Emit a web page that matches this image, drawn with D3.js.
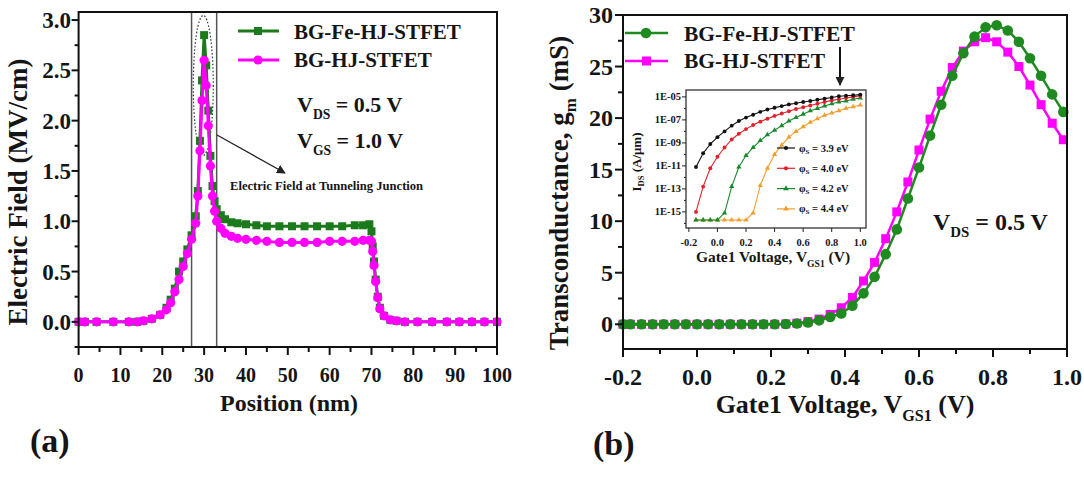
<!DOCTYPE html>
<html><head><meta charset="utf-8">
<script src="https://cdn.jsdelivr.net/npm/d3@7"></script>
<style>
body{margin:0;background:#fff}
svg{display:block}
text{font-family:"Liberation Serif","Times New Roman",serif;font-weight:bold;fill:#151515}
</style>
</head><body>
<svg id="c" width="1084" height="481"></svg>
<script>
// ---------- Panel (a): electric field vs position ----------
const positionNm = [0,1.5,4.3,8.3,12,14,15.5,17.5,19.5,21,22,23,24,25,26,27,28,28.5,29,29.5,30,30.5,31,31.5,32,32.5,33,34,35,36.5,38,40,42.5,45,48,51,54,57,60,63,66,68,69.5,70,70.3,70.6,71,71.5,72,73,74.5,76,78,81,84.5,88,91,94,97,100];
const fieldFe    = [0,0,0,0,0,0,0.01,0.03,0.07,0.14,0.22,0.33,0.5,0.6,0.72,0.86,1.05,1.3,1.8,2.4,2.85,2.55,2.1,1.65,1.35,1.2,1.12,1.06,1.02,0.99,0.98,0.97,0.96,0.95,0.95,0.95,0.95,0.95,0.95,0.95,0.96,0.96,0.97,0.9,0.75,0.6,0.42,0.25,0.14,0.06,0.02,0.01,0,0,0,0,0,0,0,0];
const fieldHJ    = [0,0,0,0,0,0,0.01,0.03,0.07,0.12,0.19,0.3,0.42,0.55,0.68,0.82,0.98,1.25,1.7,2.2,2.6,2.35,1.95,1.55,1.25,1.1,1.0,0.93,0.88,0.85,0.83,0.82,0.81,0.8,0.79,0.79,0.79,0.79,0.8,0.8,0.8,0.81,0.81,0.8,0.7,0.56,0.4,0.24,0.13,0.06,0.02,0.01,0,0,0,0,0,0,0,0];
const seriesNames = ["BG-Fe-HJ-STFET","BG-HJ-STFET"];
const junctionBounds = [27,33];
const xTicksA = [0,10,20,30,40,50,60,70,80,90,100];
const yTicksA = [0,0.5,1,1.5,2,2.5,3];

// ---------- Panel (b): transconductance vs gate voltage ----------
const vgs  = [-0.2,-0.18,-0.15,-0.12,-0.09,-0.06,-0.03,0,0.03,0.06,0.09,0.12,0.15,0.18,0.21,0.24,0.27,0.30,0.33,0.36,0.39,0.42,0.45,0.48,0.51,0.54,0.57,0.60,0.63,0.66,0.69,0.72,0.75,0.78,0.81,0.84,0.87,0.90,0.93,0.96,0.99];
const gmFe = [0,0,0,0,0,0,0,0,0,0,0,0,0,0,0,0.02,0.08,0.18,0.38,0.7,1.05,1.8,3.0,4.6,6.8,9.2,12.2,15.2,18.3,21.3,24.1,26.3,27.9,28.8,29.0,28.5,27.4,25.8,24.1,22.3,20.6];
const gmHJ = [0,0,0,0,0,0,0,0,0,0,0,0,0,0,0,0.03,0.1,0.25,0.5,0.95,1.6,2.6,4.2,6.0,8.3,10.9,13.8,16.9,19.9,22.6,24.9,26.5,27.4,27.8,27.4,26.4,25.0,23.2,21.3,19.5,17.9];
const xTicksB = [-0.2,0,0.2,0.4,0.6,0.8,1.0];
const yTicksB = [0,5,10,15,20,25,30];

// ---------- Inset: transfer characteristics (log10 of I_DS in A/um) ----------
const insetVgs = [-0.15,-0.1,-0.05,0,0.05,0.1,0.15,0.2,0.25,0.3,0.35,0.4,0.45,0.5,0.55,0.6,0.65,0.7,0.75,0.8,0.85,0.9,0.95,1.0];
const logIds39 = [-11.1,-9.9,-9.1,-8.5,-8.0,-7.5,-7.1,-6.8,-6.55,-6.3,-6.1,-5.95,-5.8,-5.65,-5.55,-5.45,-5.35,-5.25,-5.15,-5.05,-4.95,-4.9,-4.85,-4.8];
const logIds40 = [-15.0,-12.8,-11.2,-10.2,-9.4,-8.7,-8.2,-7.8,-7.45,-7.15,-6.9,-6.65,-6.45,-6.25,-6.05,-5.9,-5.75,-5.6,-5.45,-5.3,-5.2,-5.1,-5.0,-4.9];
const logIds42 = [-15.7,-15.7,-15.7,-15.7,-15.1,-12.8,-11.1,-10.1,-9.4,-8.8,-8.3,-7.9,-7.5,-7.1,-6.8,-6.5,-6.2,-6.0,-5.8,-5.6,-5.45,-5.35,-5.2,-5.1];
const logIds44 = [-15.7,-15.7,-15.7,-15.7,-15.7,-15.7,-15.7,-15.7,-15.1,-12.7,-11.2,-10.0,-9.2,-8.5,-8.0,-7.6,-7.2,-6.9,-6.6,-6.4,-6.2,-6.0,-5.85,-5.7];
const insetLabels = ["3.9","4.0","4.2","4.4"];
const insetYTicks = [1e-5,1e-7,1e-9,1e-11,1e-13,1e-15];
const insetYTickLabels = ["1E-05","1E-07","1E-09","1E-11","1E-13","1E-15"];
const insetXTicks = [-0.2,0,0.2,0.4,0.6,0.8,1.0];

const svg = d3.select("#c");
const GREEN_A = "#1b7a1b", GREEN_B = "#1f8a1f", MAG = "#ff00ff";

svg.append("defs").append("marker").attr("id","arr").attr("viewBox","0 0 10 10")
  .attr("refX",9).attr("refY",5).attr("markerWidth",9).attr("markerHeight",9)
  .attr("orient","auto").attr("markerUnits","userSpaceOnUse")
  .append("path").attr("d","M0,0L10,5L0,10z").attr("fill","#222");

function subText(g,x,y,fs,main,sub,rest){
  const t = g.append("text").attr("x",x).attr("y",y).attr("font-size",fs);
  t.append("tspan").text(main);
  t.append("tspan").attr("font-size",fs*0.62).attr("dy",fs*0.3).text(sub);
  t.append("tspan").attr("dy",-fs*0.3).text(rest);
  return t;
}

// ================= Panel (a) =================
const xA = d3.scaleLinear().domain([0,100]).range([78.6,497]);
const yA = d3.scaleLinear().domain([-0.25,3.08]).range([347,12]);
const gA = svg.append("g");

gA.selectAll(null).data(junctionBounds).enter().append("line")
  .attr("x1",d=>xA(d)).attr("x2",d=>xA(d)).attr("y1",yA.range()[1]).attr("y2",yA.range()[0])
  .attr("stroke","#555").attr("stroke-width",1.5);
gA.append("ellipse").attr("cx",xA(29.8)).attr("cy",yA(2.35)).attr("rx",10).attr("ry",70)
  .attr("fill","none").attr("stroke","#334").attr("stroke-width",1.2).attr("stroke-dasharray","1.5,2");

const lineA = (vals)=> d3.line().x((d,i)=>xA(positionNm[i])).y(d=>yA(d))(vals);
gA.append("path").attr("d",lineA(fieldFe)).attr("fill","none").attr("stroke",GREEN_A).attr("stroke-width",3);
gA.selectAll(null).data(fieldFe).enter().append("rect")
  .attr("x",(d,i)=>xA(positionNm[i])-4).attr("y",d=>yA(d)-4).attr("width",8).attr("height",8).attr("fill",GREEN_A);
gA.append("path").attr("d",lineA(fieldHJ)).attr("fill","none").attr("stroke",MAG).attr("stroke-width",3);
gA.selectAll(null).data(fieldHJ).enter().append("circle")
  .attr("cx",(d,i)=>xA(positionNm[i])).attr("cy",d=>yA(d)).attr("r",4.6).attr("fill",MAG);

gA.append("rect").attr("x",xA(0)).attr("y",yA.range()[1]).attr("width",xA(100)-xA(0)).attr("height",yA.range()[0]-yA.range()[1])
  .attr("fill","none").attr("stroke","#111").attr("stroke-width",2);
gA.selectAll(null).data(xTicksA).enter().append("line").attr("x1",d=>xA(d)).attr("x2",d=>xA(d)).attr("y1",347).attr("y2",355).attr("stroke","#111").attr("stroke-width",2);
gA.selectAll(null).data([5,15,25,35,45,55,65,75,85,95]).enter().append("line").attr("x1",d=>xA(d)).attr("x2",d=>xA(d)).attr("y1",347).attr("y2",352).attr("stroke","#111").attr("stroke-width",2);
gA.selectAll(null).data(yTicksA).enter().append("line").attr("x1",xA(0)).attr("x2",xA(0)-7).attr("y1",d=>yA(d)).attr("y2",d=>yA(d)).attr("stroke","#111").attr("stroke-width",2);
gA.selectAll(null).data([-0.25,0.25,0.75,1.25,1.75,2.25,2.75]).enter().append("line").attr("x1",xA(0)).attr("x2",xA(0)-4).attr("y1",d=>yA(d)).attr("y2",d=>yA(d)).attr("stroke","#111").attr("stroke-width",2);
gA.selectAll(null).data(xTicksA).enter().append("text").attr("x",d=>xA(d)).attr("y",382)
  .attr("text-anchor","middle").attr("font-size",20).text(d=>d);
gA.selectAll(null).data(yTicksA).enter().append("text").attr("x",71).attr("y",d=>yA(d)+8)
  .attr("text-anchor","end").attr("font-size",23).text(d=>d3.format(".1f")(d));
gA.append("text").attr("x",289).attr("y",411).attr("text-anchor","middle").attr("font-size",24).text("Position (nm)");
gA.append("text").attr("transform","translate(27,192) rotate(-90)").attr("text-anchor","middle").attr("font-size",27).text("Electric Field (MV/cm)");

const legA = gA.append("g");
legA.append("line").attr("x1",238).attr("x2",279).attr("y1",31).attr("y2",31).attr("stroke",GREEN_A).attr("stroke-width",3);
legA.append("rect").attr("x",254).attr("y",27).attr("width",8).attr("height",8).attr("fill",GREEN_A);
legA.append("text").attr("x",294).attr("y",39).attr("font-size",21).text(seriesNames[0]);
legA.append("line").attr("x1",238).attr("x2",279).attr("y1",60).attr("y2",60).attr("stroke",MAG).attr("stroke-width",3);
legA.append("circle").attr("cx",258).attr("cy",60).attr("r",4.6).attr("fill",MAG);
legA.append("text").attr("x",294).attr("y",67).attr("font-size",21).text(seriesNames[1]);

subText(gA,297,112,22,"V","DS"," = 0.5 V");
subText(gA,297,148,22,"V","GS"," = 1.0 V");

gA.append("line").attr("x1",217).attr("y1",135).attr("x2",285).attr("y2",173)
  .attr("stroke","#222").attr("stroke-width",1.3).attr("marker-end","url(#arr)");
gA.append("text").attr("x",230).attr("y",190).attr("font-size",12.6).text("Electric Field at Tunneling Junction");

svg.append("text").attr("x",30).attr("y",452).attr("font-size",34).text("(a)");

// ================= Panel (b) =================
const xB = d3.scaleLinear().domain([-0.2,1.0]).range([623,1067]);
const yB = d3.scaleLinear().domain([-2.4,30]).range([349,15]);
const gB = svg.append("g");

const lineB = (vals)=> d3.line().x((d,i)=>xB(vgs[i])).y(d=>yB(d))(vals);
gB.append("path").attr("d",lineB(gmHJ)).attr("fill","none").attr("stroke",MAG).attr("stroke-width",2.5);
gB.selectAll(null).data(gmHJ).enter().append("rect")
  .attr("x",(d,i)=>xB(vgs[i])-4.5).attr("y",d=>yB(d)-4.5).attr("width",9).attr("height",9).attr("fill",MAG);
gB.append("path").attr("d",lineB(gmFe)).attr("fill","none").attr("stroke",GREEN_B).attr("stroke-width",2.5);
gB.selectAll(null).data(gmFe).enter().append("circle")
  .attr("cx",(d,i)=>xB(vgs[i])).attr("cy",d=>yB(d)).attr("r",5.3).attr("fill",GREEN_B);

gB.append("rect").attr("x",xB(-0.2)).attr("y",yB.range()[1]).attr("width",xB(1)-xB(-0.2)).attr("height",yB.range()[0]-yB.range()[1])
  .attr("fill","none").attr("stroke","#111").attr("stroke-width",2);
gB.selectAll(null).data(xTicksB).enter().append("line").attr("x1",d=>xB(d)).attr("x2",d=>xB(d)).attr("y1",349).attr("y2",357).attr("stroke","#111").attr("stroke-width",2);
gB.selectAll(null).data([-0.1,0.1,0.3,0.5,0.7,0.9]).enter().append("line").attr("x1",d=>xB(d)).attr("x2",d=>xB(d)).attr("y1",349).attr("y2",354).attr("stroke","#111").attr("stroke-width",2);
gB.selectAll(null).data(yTicksB).enter().append("line").attr("x1",623).attr("x2",615).attr("y1",d=>yB(d)).attr("y2",d=>yB(d)).attr("stroke","#111").attr("stroke-width",2);
gB.selectAll(null).data([2.5,7.5,12.5,17.5,22.5,27.5]).enter().append("line").attr("x1",623).attr("x2",618).attr("y1",d=>yB(d)).attr("y2",d=>yB(d)).attr("stroke","#111").attr("stroke-width",2);
gB.selectAll(null).data(xTicksB).enter().append("text").attr("x",d=>xB(d)).attr("y",385)
  .attr("text-anchor","middle").attr("font-size",24).text(d=>d3.format(".1f")(d).replace("−","-"));
gB.selectAll(null).data(yTicksB).enter().append("text").attr("x",613).attr("y",d=>yB(d)+8)
  .attr("text-anchor","end").attr("font-size",24).text(d=>d);

subText(gB,845,413,26,"Gate1 Voltage, V","GS1"," (V)").attr("text-anchor","middle");
const yt = gB.append("text").attr("transform","translate(568,193) rotate(-90)").attr("text-anchor","middle").attr("font-size",27);
yt.append("tspan").text("Transconductance, g");
yt.append("tspan").attr("font-size",17).attr("dy",8).text("m");
yt.append("tspan").attr("dy",-8).text(" (mS)");

gB.append("line").attr("x1",625).attr("x2",668).attr("y1",33).attr("y2",33).attr("stroke",GREEN_B).attr("stroke-width",2.5);
gB.append("circle").attr("cx",646).attr("cy",33).attr("r",5.3).attr("fill",GREEN_B);
gB.append("text").attr("x",684).attr("y",41).attr("font-size",21.5).text(seriesNames[0]);
gB.append("line").attr("x1",625).attr("x2",668).attr("y1",61).attr("y2",61).attr("stroke",MAG).attr("stroke-width",2.5);
gB.append("rect").attr("x",642).attr("y",56.5).attr("width",9).attr("height",9).attr("fill",MAG);
gB.append("text").attr("x",684).attr("y",68).attr("font-size",21.5).text(seriesNames[1]);
gB.append("line").attr("x1",840).attr("x2",840).attr("y1",47).attr("y2",85)
  .attr("stroke","#111").attr("stroke-width",2).attr("marker-end","url(#arr)");

subText(gB,933,230,24,"V","DS"," = 0.5 V");
svg.append("text").attr("x",593).attr("y",455).attr("font-size",34).text("(b)");

// ================= Inset =================
const xI = d3.scaleLinear().domain([-0.22,1.04]).range([686,866]);
const yI = d3.scaleLog().domain([Math.pow(10,-16.4),Math.pow(10,-4.4)]).range([228,90]);
const gI = svg.append("g");
gI.append("rect").attr("x",686).attr("y",90).attr("width",180).attr("height",138).attr("fill","#fff");
const insetSeries = [
  {vals:logIds39,color:"#111111",shape:d3.symbolCircle},
  {vals:logIds40,color:"#e0202a",shape:d3.symbolCircle},
  {vals:logIds42,color:"#178a2a",shape:d3.symbolTriangle},
  {vals:logIds44,color:"#f0a030",shape:d3.symbolTriangle}
];
insetSeries.slice().reverse().forEach(s=>{
  const ln = d3.line().x((d,i)=>xI(insetVgs[i])).y(d=>yI(Math.pow(10,d)));
  gI.append("path").attr("d",ln(s.vals)).attr("fill","none").attr("stroke",s.color).attr("stroke-width",1.1);
  gI.selectAll(null).data(s.vals).enter().append("path")
    .attr("d",d3.symbol().type(s.shape).size(12))
    .attr("transform",(d,i)=>`translate(${xI(insetVgs[i])},${yI(Math.pow(10,d))})`)
    .attr("fill",s.color);
});
gI.append("rect").attr("x",686).attr("y",90).attr("width",180).attr("height",138).attr("fill","none").attr("stroke","#222").attr("stroke-width",1.2);
gI.selectAll(null).data(insetYTicks).enter().append("line").attr("x1",686).attr("x2",682).attr("y1",d=>yI(d)).attr("y2",d=>yI(d)).attr("stroke","#222");
gI.selectAll(null).data([1e-6,1e-8,1e-10,1e-12,1e-14,1e-16]).enter().append("line").attr("x1",686).attr("x2",684).attr("y1",d=>yI(d)).attr("y2",d=>yI(d)).attr("stroke","#222");
gI.selectAll(null).data(insetYTicks).enter().append("text").attr("x",681).attr("y",d=>yI(d)+3.5)
  .attr("text-anchor","end").attr("font-size",10.5).text((d,i)=>insetYTickLabels[i]);
gI.selectAll(null).data(insetXTicks).enter().append("line").attr("x1",d=>xI(d)).attr("x2",d=>xI(d)).attr("y1",228).attr("y2",232).attr("stroke","#222");
gI.selectAll(null).data(insetXTicks).enter().append("text").attr("x",d=>xI(d)).attr("y",246)
  .attr("text-anchor","middle").attr("font-size",10.5).text(d=>d3.format(".1f")(d).replace("−","-"));
subText(gI,773,262,15.5,"Gate1 Voltage, V","GS1"," (V)").attr("text-anchor","middle");
const iy = gI.append("text").attr("transform","translate(641,162) rotate(-90)").attr("text-anchor","middle").attr("font-size",13);
iy.append("tspan").text("I");
iy.append("tspan").attr("font-size",8.5).attr("dy",3).text("DS");
iy.append("tspan").attr("dy",-3).text(" (A/μm)");
insetSeries.forEach((s,k)=>{
  const y = 148 + k*20.3;
  gI.append("line").attr("x1",777).attr("x2",795).attr("y1",y).attr("y2",y).attr("stroke",s.color).attr("stroke-width",1.2);
  gI.append("path").attr("d",d3.symbol().type(s.shape).size(14)).attr("transform",`translate(786,${y})`).attr("fill",s.color);
  const t = gI.append("text").attr("x",799).attr("y",y+3.5).attr("font-size",10.5);
  t.append("tspan").text("φ");
  t.append("tspan").attr("font-size",7).attr("dy",2).text("S");
  t.append("tspan").attr("dy",-2).text(` = ${insetLabels[k]} eV`);
});
</script>
</body></html>
